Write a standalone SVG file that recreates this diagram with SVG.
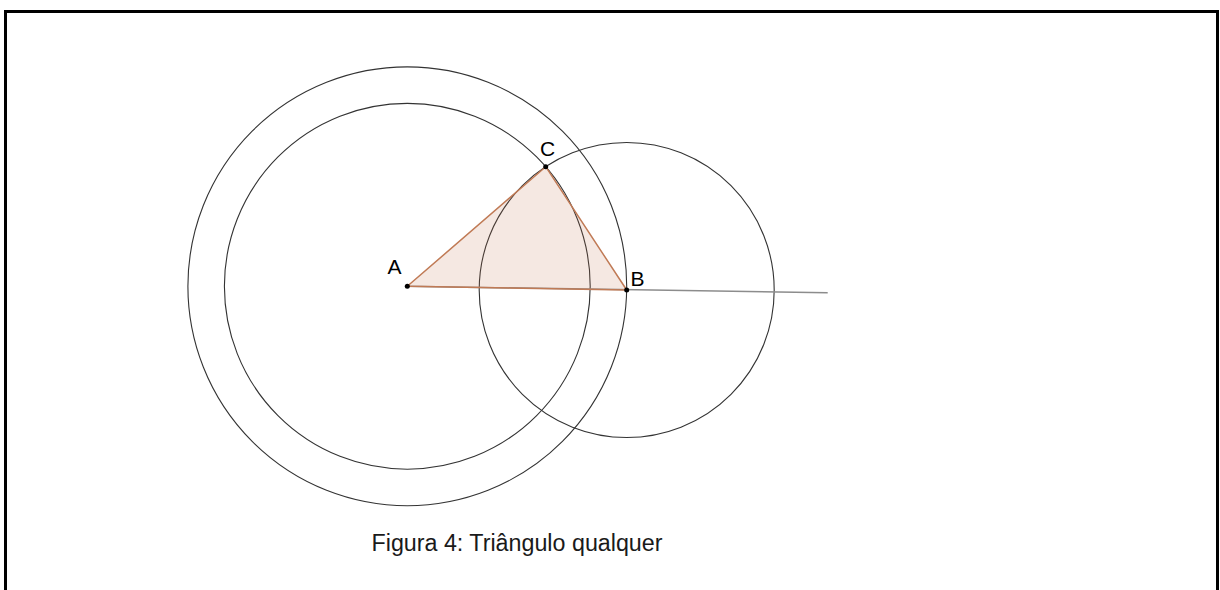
<svg xmlns="http://www.w3.org/2000/svg" width="1220" height="590" viewBox="0 0 1220 590">
<style>
.circ{fill:none;stroke:#333;stroke-width:1.1}
.lbl{font-family:"Liberation Sans",Arial,sans-serif;font-size:21px;fill:#000}
.cap{font-family:"Liberation Sans",Arial,sans-serif;font-size:23px;fill:#1a1a1a}
.pt{fill:#000}
</style>
<rect x="0" y="0" width="1220" height="590" fill="#fff"/>
<rect x="5.5" y="11.5" width="1212" height="620" fill="none" stroke="#000" stroke-width="3"/>
<g id="construction">
<circle id="circleAB" class="circ" cx="407.3" cy="286.3" r="219.4"/>
<circle id="circleAC" class="circ" cx="407.3" cy="286.3" r="182.9"/>
<circle id="circleBC" class="circ" cx="626.7" cy="290" r="147.5"/>
<line id="rayAB" x1="407.3" y1="286.3" x2="827.7" y2="292.8" stroke="#8c8c8c" stroke-width="1.5"/>
</g>
<g id="triangle">
<polygon points="407.3,286.3 626.7,290 545.7,166.7" fill="#c0704a" fill-opacity="0.16" stroke="#c07a55" stroke-width="1.5" stroke-linejoin="round"/>
</g>
<g id="pointA"><circle class="pt" cx="407.3" cy="286.3" r="2.5"/><text class="lbl" x="387.5" y="274">A</text></g>
<g id="pointB"><circle class="pt" cx="626.7" cy="290" r="2.5"/><text class="lbl" x="630.5" y="286">B</text></g>
<g id="pointC"><circle class="pt" cx="545.7" cy="166.7" r="2.5"/><text class="lbl" x="540" y="156">C</text></g>
<text class="cap" x="371.5" y="551" textLength="291" lengthAdjust="spacingAndGlyphs">Figura 4: Triângulo qualquer</text>
</svg>
